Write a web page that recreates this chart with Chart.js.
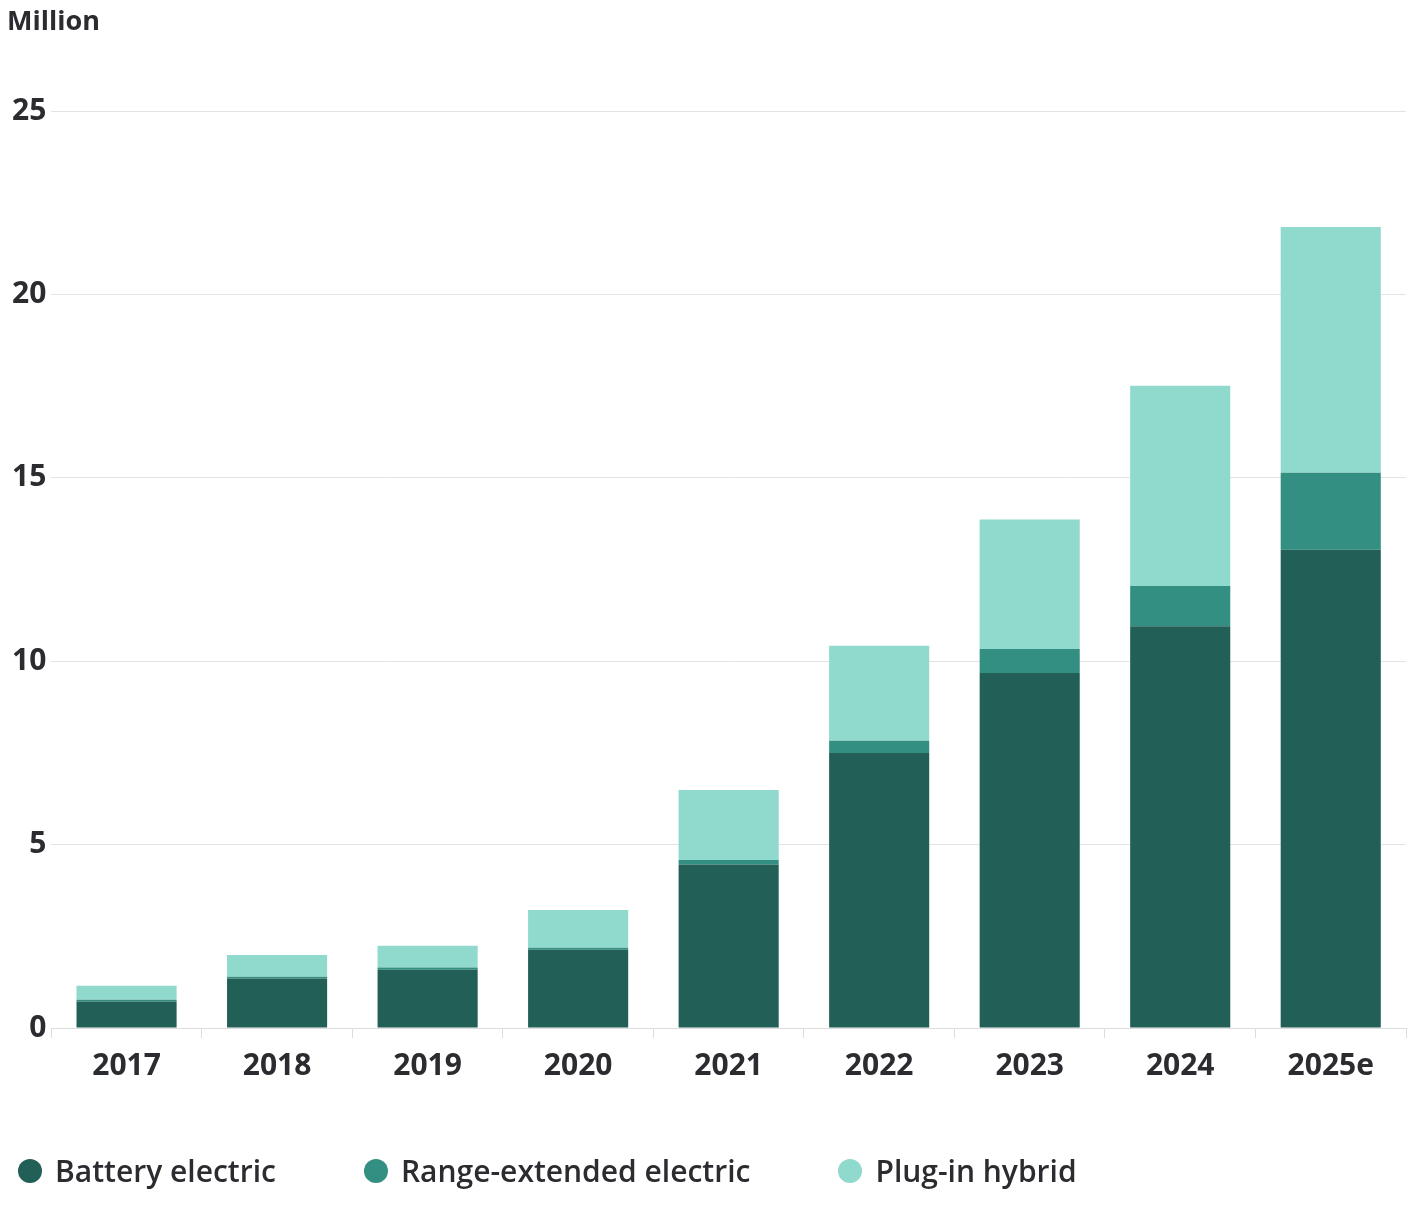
<!DOCTYPE html>
<html>
<head>
<meta charset="utf-8">
<script src="https://cdn.jsdelivr.net/npm/chart.js@4.4.1/dist/chart.umd.min.js"></script>
<style>
    html, body { margin: 0; padding: 0; background: #fff; }
    #wrap { position: relative; width: 1408px; height: 1212px; }
    #legend {
        position: absolute; left: 18px; top: 1150px;
        display: flex; align-items: center; gap: 88px;
        font-family: "Open Sans", sans-serif; font-size: 30px; font-weight: 600; color: #2b2b30;
    }
    .item { display: flex; align-items: center; white-space: nowrap; }
    .dot { width: 24px; height: 24px; border-radius: 50%; margin-right: 13px; }
</style>
</head>
<body>
<div id="wrap">
    <canvas id="evChart"></canvas>
    <div id="legend"></div>
</div>
<script>
// Chart data (million vehicles)
const years = ['2017', '2018', '2019', '2020', '2021', '2022', '2023', '2024', '2025e'];
const batteryElectric = [0.72, 1.35, 1.59, 2.13, 4.46, 7.50, 9.68, 10.95, 13.04];
const rangeExtended = [0.05, 0.05, 0.06, 0.06, 0.12, 0.33, 0.65, 1.10, 2.10];
const plugInHybrid = [0.38, 0.59, 0.59, 1.03, 1.91, 2.59, 3.53, 5.46, 6.70];
const yTicks = [0, 5, 10, 15, 20, 25];

const textColor = '#2b2b30';
const fontFamily = '"Open Sans", Lato, sans-serif';

const ctx = document.getElementById('evChart');
const chart = new Chart(ctx, {
    type: 'bar',
    data: {
        labels: years,
        datasets: [
            { label: 'Battery electric', data: batteryElectric, backgroundColor: '#225f57' },
            { label: 'Range-extended electric', data: rangeExtended, backgroundColor: '#338f81' },
            { label: 'Plug-in hybrid', data: plugInHybrid, backgroundColor: '#90d9cd' }
        ]
    },
    options: {
        responsive: true,
        maintainAspectRatio: false,
        animation: false,
        layout: { padding: { left: 7, right: 2, top: 0, bottom: 118 } },
        datasets: {
            bar: { barPercentage: 1, categoryPercentage: 0.665, borderWidth: 0 }
        },
        plugins: {
            tooltip: { enabled: false },
            legend: { display: false },
            title: {
                display: true,
                text: 'Million',
                align: 'start',
                color: textColor,
                font: { family: fontFamily, size: 27, weight: 'bold' },
                padding: { top: 6, bottom: 72.6 }
            }
        },
        scales: {
            x: {
                stacked: true,
                border: { display: true, color: '#dcdcdc' },
                grid: {
                    display: true,
                    offset: true,
                    drawOnChartArea: false,
                    drawTicks: true,
                    tickLength: 10,
                    color: '#dcdcdc'
                },
                ticks: {
                    color: textColor,
                    padding: 10,
                    font: { family: fontFamily, size: 30, weight: 'bold' }
                }
            },
            y: {
                stacked: true,
                min: 0,
                max: 25,
                afterBuildTicks: axis => { axis.ticks = yTicks.map(v => ({ value: v })); },
                border: { display: false },
                grid: { color: '#e3e3e3', drawTicks: false },
                ticks: {
                    color: textColor,
                    padding: 5,
                    font: { family: fontFamily, size: 30, weight: 'bold' }
                }
            }
        }
    }
});

// HTML legend built from the datasets
const legendEl = document.getElementById('legend');
chart.data.datasets.forEach(ds => {
    const item = document.createElement('div');
    item.className = 'item';
    const dot = document.createElement('span');
    dot.className = 'dot';
    dot.style.background = ds.backgroundColor;
    const label = document.createElement('span');
    label.textContent = ds.label;
    item.appendChild(dot);
    item.appendChild(label);
    legendEl.appendChild(item);
});
</script>
</body>
</html>
